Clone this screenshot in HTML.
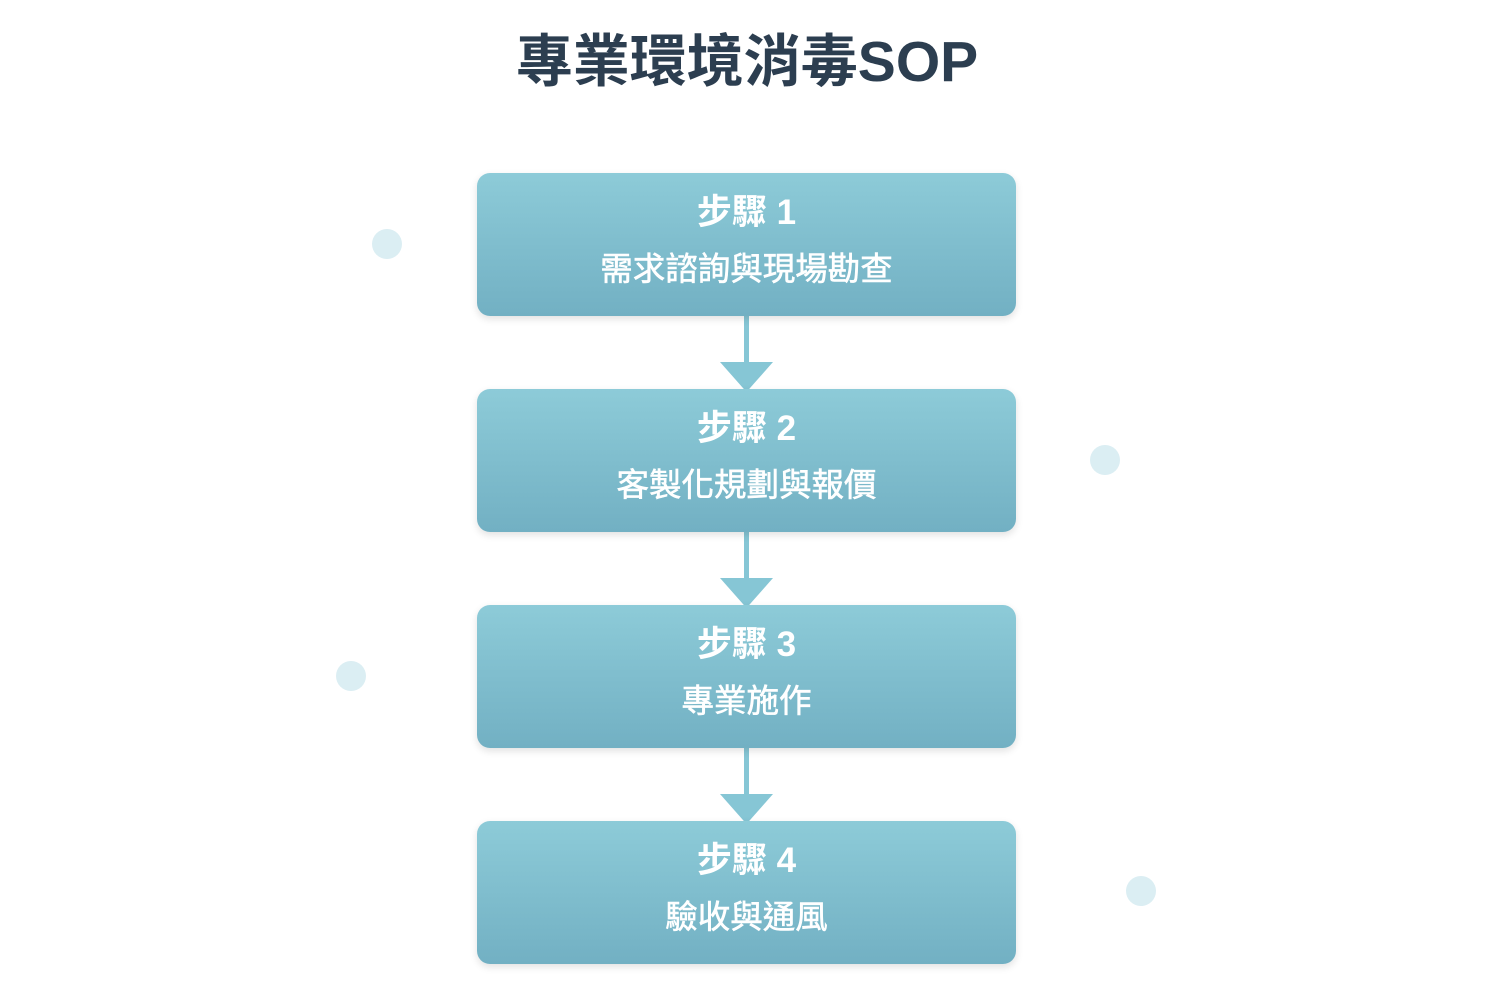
<!DOCTYPE html>
<html><head><meta charset="utf-8"><style>
body{margin:0;width:1500px;height:1000px;background:#fff;position:relative;overflow:hidden;font-family:"Liberation Sans","Noto Sans CJK TC",sans-serif}
h1{position:absolute;top:28px;left:0;width:1494px;text-align:center;margin:0;font-size:57px;line-height:68px;color:#2c3e50;font-weight:bold}
.box{position:absolute;left:477px;width:539px;height:143px;border-radius:13px;background:linear-gradient(#8dcbd8,#72b0c3);box-shadow:0 3px 8px rgba(0,0,0,.12);color:#fff;text-align:center}
.t{position:absolute;top:19px;width:100%;font-size:35px;font-weight:bold;line-height:42px}
.s{position:absolute;top:75px;width:100%;font-size:32.5px;line-height:42px;-webkit-text-stroke:0.6px #fff}
.dot{position:absolute;width:30px;height:30px;border-radius:50%;background:#dbeef3}
</style></head><body>
<h1>專業環境消毒SOP</h1>
<div class="dot" style="left:372px;top:229px"></div>
<div class="dot" style="left:1090px;top:445px"></div>
<div class="dot" style="left:336px;top:661px"></div>
<div class="dot" style="left:1126px;top:876px"></div>
<svg width="1500" height="1000" style="position:absolute;left:0;top:0">
<g fill="#86c6d5" stroke="none">
<rect x="744" y="316" width="5" height="50"/><polygon points="720,362 773,362 746.5,392"/>
<rect x="744" y="532" width="5" height="50"/><polygon points="720,578 773,578 746.5,608"/>
<rect x="744" y="748" width="5" height="50"/><polygon points="720,794 773,794 746.5,824"/>
</g></svg>
<div class="box" style="top:173px"><div class="t">步驟 1</div><div class="s">需求諮詢與現場勘查</div></div>
<div class="box" style="top:389px"><div class="t">步驟 2</div><div class="s">客製化規劃與報價</div></div>
<div class="box" style="top:605px"><div class="t">步驟 3</div><div class="s">專業施作</div></div>
<div class="box" style="top:821px"><div class="t">步驟 4</div><div class="s">驗收與通風</div></div>
</body></html>
